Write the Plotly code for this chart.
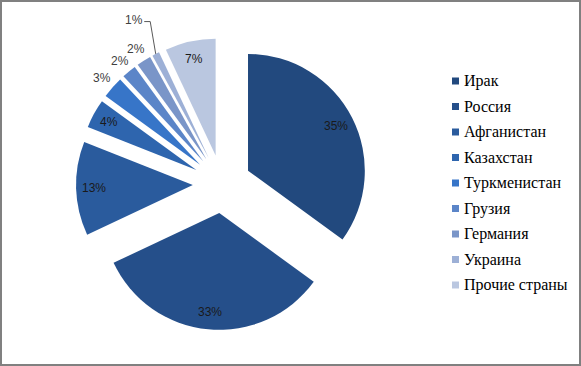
import math
import plotly.graph_objects as go

labels = ["Ирак", "Россия", "Афганистан", "Казахстан", "Туркменистан",
          "Грузия", "Германия", "Украина", "Прочие страны"]
values = [35, 33, 13, 4, 3, 2, 2, 1, 7]
colors = ["#22497E", "#254F8A", "#2A5B9D", "#2E65AE", "#3775C8",
          "#5B85C8", "#7A95C8", "#9DB0D6", "#BAC7E0"]
# label placement: 'in' near outer edge, 'out' outside, 'lead' with leader line
label_mode = ["in", "in", "in", "in", "out", "out", "out", "lead", "in"]

W, H = 581, 366
PULL = 0.25
dom_x = [76 / W, 368 / W]
dom_y = [36 / H, 328 / H]

fig = go.Figure()
fig.add_trace(go.Pie(
    labels=labels, values=values, sort=False, direction="clockwise", rotation=0,
    marker=dict(colors=colors, line=dict(width=0)),
    pull=[PULL] * len(values),
    textinfo="none", hoverinfo="skip",
    domain=dict(x=dom_x, y=dom_y),
    showlegend=False, automargin=False,
))

# geometry of the pie (pixels, y down)
cx = (dom_x[0] + dom_x[1]) / 2 * W
cy = (1 - (dom_y[0] + dom_y[1]) / 2) * H
R = min((dom_x[1] - dom_x[0]) * W, (dom_y[1] - dom_y[0]) * H) / 2 / (1 + PULL)


def px2paper(x, y):
    return x / W, 1 - y / H


total = sum(values)
cum = 0
for v, mode in zip(values, label_mode):
    mid = (cum + v / 2) / total * 2 * math.pi
    cum += v
    sx, sy = math.sin(mid), -math.cos(mid)
    txt = f"{round(v / total * 100)}%"
    if mode == "in":
        dist, col = 1.10 * R, "#1a1a1a"
    elif mode == "out":
        dist, col = 1.37 * R, "#404040"
    else:
        dist, col = 1.58 * R, "#404040"
    lx, ly = cx + dist * sx, cy + dist * sy
    if mode == "lead":
        lx -= 4
        ex, ey = cx + (1 + PULL) * R * sx, cy + (1 + PULL) * R * sy
        x1, y1 = px2paper(lx + 10, ly + 2)
        x2, y2 = px2paper(lx + 16, ly + 2)
        x3, y3 = px2paper(ex, ey)
        fig.add_shape(type="path", xref="paper", yref="paper",
                      path=f"M{x1},{y1} L{x2},{y2} L{x3},{y3}",
                      line=dict(color="#595959", width=1))
    ax, ay = px2paper(lx, ly)
    fig.add_annotation(xref="paper", yref="paper", x=ax, y=ay,
                       xanchor="center", yanchor="middle", showarrow=False, text=txt,
                       font=dict(family="Liberation Sans", size=12, color=col))

# manual legend
y0, step = 81, 25.5
for i, (lab, col) in enumerate(zip(labels, colors)):
    yc = y0 + step * i
    fig.add_shape(type="rect", xref="paper", yref="paper",
                  x0=452 / W, x1=459 / W, y0=1 - (yc + 3.5) / H, y1=1 - (yc - 3.5) / H,
                  fillcolor=col, line=dict(width=0))
    fig.add_annotation(xref="paper", yref="paper", x=462 / W, y=1 - yc / H,
                       xanchor="left", yanchor="middle", showarrow=False, text=lab,
                       font=dict(family="Times New Roman, Liberation Serif, serif",
                                 size=16, color="#000000"))

# outer frame
fig.add_shape(type="rect", xref="paper", yref="paper",
              x0=1 / W, x1=(W - 1) / W, y0=1 / H, y1=(H - 1) / H,
              line=dict(color="#808080", width=2), fillcolor="rgba(0,0,0,0)")

fig.update_layout(width=W, height=H, margin=dict(l=0, r=0, t=0, b=0),
                  paper_bgcolor="white", plot_bgcolor="white")
fig.write_html("out.html", config={"displayModeBar": False},
               post_script="document.body.style.margin='0px';")
